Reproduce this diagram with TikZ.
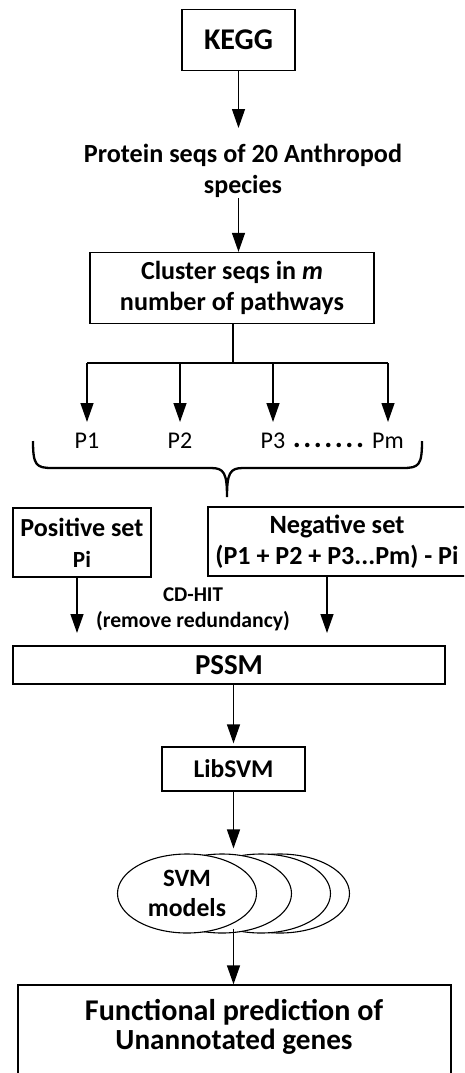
\documentclass[tikz,border=0pt]{standalone}
\usepackage{fontspec}
\usepackage{graphicx}
\setmainfont{Carlito}
\usetikzlibrary{arrows.meta,shapes.geometric}
\newcommand\fw[2]{\resizebox{#1pt}{!}{#2}}
\begin{document}
\begin{tikzpicture}[x=1pt,y=-1pt,line width=1.3pt,
  >={Triangle[length=19pt,width=13pt]},
  boxnode/.style={draw,rectangle,inner sep=0pt,align=center},
  bf/.style 2 args={font=\bfseries\fontsize{#1}{#2}\selectfont},
  plab/.style={font=\fontsize{24}{26}\selectfont,anchor=north,inner xsep=1pt,inner ysep=10pt},
  ell/.style={draw,ellipse,fill=white,minimum width=139pt,minimum height=79pt,inner sep=0pt,line width=1.1pt}]
\useasboundingbox (0,0) rectangle (464,1073);
\clip (0,0) rectangle (464,1073);

\node[boxnode,minimum width=113pt,minimum height=61pt,bf={30}{35}] (kegg) at (238.5,40) {\fw{69}{KEGG}};
\node[align=center,bf={26}{31}] (prot) at (243,170.5) {\fw{318}{Protein seqs of 20 Anthropod}\\\fw{78}{species}};
\node[boxnode,minimum width=284pt,minimum height=71pt,bf={26}{31}] (clus) at (232,288) {\fw{182}{Cluster seqs in \textit{m}}\\\fw{224}{number of pathways}};

\coordinate (kend) at (238.5,128);
\coordinate (pstart) at (238.5,198);
\draw[->] (kegg.south) -- (kend);
\draw[->] (pstart) -- (clus.north -| pstart);

\coordinate (split) at (233,363);
\node[plab] (p1) at (87,422) {P1};
\node[plab] (p2) at (180,422) {P2};
\node[plab] (p3) at (273,422) {P3};
\node[plab] (pm) at (388,422) {Pm};
\node[font=\bfseries\fontsize{30}{32}\selectfont,inner sep=0pt] (dots) at (328.5,445) {.\kern2.5pt.\kern2.5pt.\kern2.5pt.\kern2.5pt.\kern2.5pt.\kern2.5pt.};

\draw (clus.south -| split) -- (split);
\draw (p1.north |- split) -- (pm.north |- split);
\draw[->] (p1.north |- split) -- (p1.north);
\draw[->] (p2.north |- split) -- (p2.north);
\draw[->] (p3.north |- split) -- (p3.north);
\draw[->] (pm.north |- split) -- (pm.north);

\coordinate (btip) at (227,497);
\draw[line width=2.3pt] (33,441) .. controls (33,465) and (36,468) .. (52,468) -- (211,468)
  .. controls (224,468) and (227,473) .. (btip)
  .. controls (227,473) and (230,468) .. (243,468) -- (403,468)
  .. controls (419,468) and (422,465) .. (422,441);

\node[boxnode,minimum width=138pt,minimum height=69pt,bf={26}{31}] (pos) at (82,542.5) {\fw{123}{Positive set}\\\fw{18}{Pi}};
\node[boxnode,minimum width=258pt,minimum height=69pt,bf={26}{31}] (neg) at (337,541.5) {\fw{135}{Negative set}\\\fw{243}{(P1 + P2 + P3...Pm) - Pi}};

\node[align=center,bf={21}{26}] (cdhit) at (193,609) {\fw{60}{CD-HIT}\\\fw{194}{(remove redundancy)}};

\coordinate (pe) at (77,633);
\coordinate (ne) at (327,633);
\draw[->] (pos.south -| pe) -- (pe);
\draw[->] (neg.south -| ne) -- (ne);

\node[boxnode,minimum width=432pt,minimum height=38pt,bf={29}{32}] (pssm) at (229,665) {\fw{68}{PSSM}};
\node[boxnode,minimum width=143pt,minimum height=44pt,bf={25}{28}] (lib) at (233.5,769) {\fw{80}{LibSVM}};
\draw[->,shorten >=3pt] (pssm.south -| lib.north) -- (lib.north);

\node[ell] (e4) at (280,893.5) {};
\node[ell] (e3) at (261,893.5) {};
\node[ell] (e2) at (222,893.5) {};
\node[ell,align=center,bf={26}{30}] (e1) at (187,893.5) {\fw{48}{SVM}\\\fw{78}{models}};
\draw[->,shorten >=5pt] (lib.south) -- (lib.south |- e1.north);

\node[draw,rectangle,minimum width=433pt,minimum height=120pt,inner sep=0pt] (fpbox) at (234.5,1045) {};
\node[align=center,bf={30}{29}] (fptext) at (234,1027) {\fw{298}{Functional prediction of}\\\fw{237}{Unannotated genes}};
\draw[->] (lib.south |- e1.south) ++(0,-5) coordinate (es) -- (fpbox.north -| es);
\end{tikzpicture}
\end{document}
